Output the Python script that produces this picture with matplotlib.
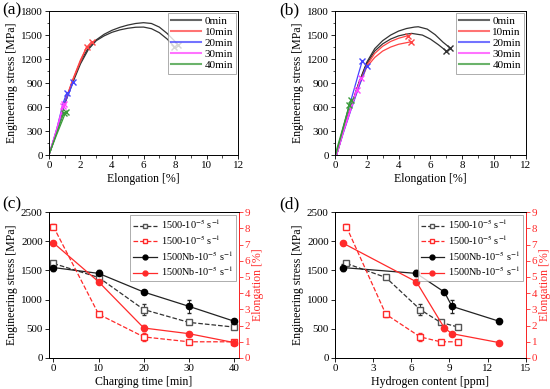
import numpy as np
import matplotlib
matplotlib.use('Agg')
import matplotlib.pyplot as plt
from matplotlib.ticker import MultipleLocator
from matplotlib.lines import Line2D

plt.rcParams['font.family'] = ['Liberation Serif', 'DejaVu Serif']
plt.rcParams['mathtext.fontset'] = 'stix'
plt.rcParams['font.size'] = 8
plt.rcParams['xtick.direction'] = 'out'
plt.rcParams['ytick.direction'] = 'out'

# ---- (a) stress-strain curves, two samples per charging time ----
a_curves = {
    '0min': [
        ([0.05, 0.5, 1.0, 1.5, 2.0, 2.5, 3.0, 3.5, 4.0, 4.5, 5.0, 5.5, 6.0, 6.5, 7.0, 7.5, 7.9, 8.21],
         [30, 300, 650, 920, 1170, 1340, 1440, 1510, 1560, 1597, 1625, 1645, 1655, 1645, 1600, 1520, 1440, 1375]),
        ([0.05, 0.5, 1.0, 1.5, 2.0, 2.5, 3.0, 3.5, 4.0, 4.5, 5.0, 5.5, 6.0, 6.5, 7.0, 7.5, 7.96],
         [30, 300, 640, 900, 1140, 1320, 1430, 1490, 1535, 1565, 1585, 1598, 1600, 1580, 1530, 1450, 1354]),
    ],
    '10min': [
        ([0.05, 0.5, 1.0, 1.5, 2.0, 2.4, 2.71], [30, 310, 660, 940, 1190, 1350, 1417]),
        ([0.05, 0.5, 1.0, 1.5, 2.0, 2.39], [30, 300, 650, 930, 1170, 1354]),
    ],
    '20min': [
        ([0.05, 0.5, 1.0, 1.54], [30, 300, 650, 909]),
        ([0.05, 0.5, 0.9, 1.12], [30, 330, 650, 771]),
    ],
    '30min': [
        ([0.05, 0.5, 0.95], [30, 320, 634]),
        ([0.05, 0.5, 0.88], [30, 330, 610]),
    ],
    '40min': [
        ([0.05, 0.5, 1.06], [30, 260, 534]),
        ([0.05, 0.5, 0.95], [30, 280, 530]),
    ],
}

# ---- (b) stress-strain curves ----
b_curves = {
    '0min': [
        ([0.1, 0.5, 1.0, 1.5, 2.0, 2.5, 3.0, 3.5, 4.0, 4.5, 5.0, 5.24, 5.8, 6.3, 6.8, 7.23],
         [0, 290, 600, 900, 1160, 1330, 1430, 1500, 1550, 1582, 1600, 1604, 1575, 1505, 1410, 1341]),
        ([0.1, 0.5, 1.0, 1.5, 2.0, 2.5, 3.0, 3.5, 4.0, 4.5, 4.82, 5.5, 6.0, 6.5, 6.98],
         [0, 290, 600, 900, 1140, 1300, 1390, 1450, 1490, 1512, 1521, 1500, 1450, 1380, 1304]),
    ],
    '10min': [
        ([0.1, 0.5, 1.0, 1.5, 2.0, 2.5, 3.0, 3.5, 4.0, 4.57], [0, 280, 590, 880, 1120, 1270, 1360, 1420, 1460, 1491]),
        ([0.1, 0.5, 1.0, 1.5, 2.0, 2.5, 3.0, 3.5, 4.0, 4.78], [0, 280, 580, 860, 1100, 1220, 1300, 1350, 1385, 1416]),
    ],
    '20min': [
        ([0.1, 0.5, 1.0, 1.5, 1.72], [0, 330, 680, 1030, 1179]),
        ([0.1, 0.5, 1.0, 1.5, 1.99], [0, 260, 560, 850, 1112]),
    ],
    '30min': [
        ([0.1, 0.5, 1.0, 1.63], [0, 270, 570, 966]),
        ([0.1, 0.5, 1.0, 1.36], [0, 280, 590, 812]),
    ],
    '40min': [
        ([0.05, 0.5, 0.99], [30, 340, 687]),
        ([0.05, 0.5, 0.9], [0, 320, 625]),
    ],
}
curve_colors = {'0min': '#333333', '10min': '#ff4444', '20min': '#4444ff',
                '30min': '#ff44ff', '40min': '#3a9a3a'}

# ---- (c)/(d) summary data ----
time_min = [0, 10, 20, 30, 40]
h_1500 = [0.9, 4.0, 6.7, 8.3, 9.7]
h_1500nb = [0.6, 6.4, 8.6, 9.2, 12.9]
stress_1500 = [1620, 1380, 830, 610, 530]
stress_1500_err = [30, 30, 100, 30, 20]
elong_1500 = [8.1, 2.7, 1.3, 1.0, 1.0]
elong_1500_err = [0.15, 0.15, 0.25, 0.05, 0.05]
stress_1500nb = [1550, 1450, 1130, 885, 630]
stress_1500nb_err = [60, 50, 30, 110, 40]
elong_1500nb = [7.1, 4.7, 1.85, 1.5, 0.95]
elong_1500nb_err = [0.1, 0.1, 0.2, 0.1, 0.05]
lab_1500 = '1500-10$^{-5}$ s$^{-1}$'
lab_1500nb = '1500Nb-10$^{-5}$ s$^{-1}$'

RED = '#ff2a2a'
FS_TICK = 7.9
FS_LAB = 8.6

fig = plt.figure(figsize=(5.5, 3.89), dpi=100)
fig.patch.set_facecolor('white')


def curve_panel(rect, curves):
    ax = fig.add_axes(rect)
    for name, runs in curves.items():
        c = curve_colors[name]
        for i, (x, y) in enumerate(runs):
            ax.plot(x, y, color=c, lw=0.9, label=name if i == 0 else None)
            ax.plot(x[-1], y[-1], 'x', color=c, ms=4, mew=1)
    ax.set_xlim(0, 12)
    ax.set_ylim(0, 1800)
    ax.xaxis.set_major_locator(MultipleLocator(2))
    ax.xaxis.set_minor_locator(MultipleLocator(1))
    ax.yaxis.set_major_locator(MultipleLocator(300))
    ax.yaxis.set_minor_locator(MultipleLocator(150))
    ax.tick_params(length=3, width=0.6, labelsize=FS_TICK, pad=1.5)
    ax.tick_params(which='minor', length=1.8, width=0.5)
    ax.set_xlabel('Elongation [%]', fontsize=FS_LAB, labelpad=2)
    ax.set_ylabel('Engineering stress [MPa]', fontsize=FS_LAB, labelpad=2)
    leg = ax.legend(loc='upper right', fontsize=8, frameon=True, fancybox=False,
                    edgecolor='#888888', handlelength=2.7, borderpad=0.3,
                    labelspacing=0.12, handletextpad=0.3, borderaxespad=0.15)
    leg.get_frame().set_linewidth(0.6)
    for h in leg.get_lines():
        h.set_linewidth(1.5)
        h.set_alpha(0.75)
    for s in ax.spines.values():
        s.set_linewidth(0.7)
    return ax


def summary_panel(rect, x1, x2, xlim, xstep):
    ax = fig.add_axes(rect)
    ax2 = ax.twinx()
    eb = dict(capsize=1.5, elinewidth=0.7, lw=0.9, ms=4.5)
    ax.errorbar(x1, stress_1500, yerr=stress_1500_err, color='#333333', ls='--',
                marker='s', mfc='white', mec='#555555', **eb)
    ax2.errorbar(x1, elong_1500, yerr=elong_1500_err, color=RED, ls='--',
                 marker='s', mfc='white', mec=RED, **eb)
    ax.errorbar(x2, stress_1500nb, yerr=stress_1500nb_err, color='#222222', ls='-',
                marker='o', mfc='black', mec='black', **eb)
    ax2.errorbar(x2, elong_1500nb, yerr=elong_1500nb_err, color=RED, ls='-',
                 marker='o', mfc=RED, mec=RED, **eb)
    ax.set_xlim(*xlim)
    ax.set_ylim(0, 2500)
    ax2.set_ylim(0, 9)
    ax.xaxis.set_major_locator(MultipleLocator(xstep))
    ax.yaxis.set_major_locator(MultipleLocator(500))
    ax2.yaxis.set_major_locator(MultipleLocator(1))
    ax.tick_params(length=3, width=0.6, labelsize=FS_TICK, pad=1.5)
    ax2.tick_params(length=3, width=0.6, labelsize=FS_TICK, pad=1.2, colors=RED)
    ax.set_ylabel('Engineering stress [MPa]', fontsize=FS_LAB, labelpad=2)
    ax2.set_ylabel('Elongation [%]', fontsize=FS_LAB, color=RED, labelpad=1.5)
    handles = [
        Line2D([], [], color='#333333', ls='--', lw=0.9, marker='s', ms=3.5, mfc='white', mec='#555555'),
        Line2D([], [], color=RED, ls='--', lw=0.9, marker='s', ms=3.5, mfc='white', mec=RED),
        Line2D([], [], color='#222222', ls='-', lw=0.9, marker='o', ms=3.5, mfc='black', mec='black'),
        Line2D([], [], color=RED, ls='-', lw=0.9, marker='o', ms=3.5, mfc=RED, mec=RED),
    ]
    labels = [lab_1500, lab_1500, lab_1500nb, lab_1500nb]
    leg = ax2.legend(handles, labels, loc='upper right', fontsize=7.4, frameon=True,
                     fancybox=False, edgecolor='#888888', handlelength=2.3, borderpad=0.3,
                     labelspacing=0.2, handletextpad=0.35, borderaxespad=0.25)
    leg.get_frame().set_linewidth(0.6)
    for s in ax.spines.values():
        s.set_linewidth(0.7)
    for s in ax2.spines.values():
        s.set_linewidth(0.7)
    ax2.spines['right'].set_color(RED)
    return ax


ax_a = curve_panel([0.089, 0.6015, 0.344, 0.370], a_curves)
ax_b = curve_panel([0.609, 0.6015, 0.347, 0.370], b_curves)

ax_c = summary_panel([0.089, 0.0797, 0.345, 0.375], time_min, time_min, (-1, 41), 10)
ax_c.set_xlabel('Charging time [min]', fontsize=FS_LAB, labelpad=2)
ax_d = summary_panel([0.609, 0.0797, 0.347, 0.375], h_1500, h_1500nb, (0, 15), 3)
ax_d.set_xlabel('Hydrogen content [ppm]', fontsize=FS_LAB, labelpad=2)

fig.text(0.004, 0.995, '(a)', fontsize=12.5, va='top')
fig.text(0.508, 0.995, '(b)', fontsize=12.5, va='top')
fig.text(0.004, 0.495, '(c)', fontsize=12.5, va='top')
fig.text(0.508, 0.495, '(d)', fontsize=12.5, va='top')

fig.savefig('out.png', dpi=100)
